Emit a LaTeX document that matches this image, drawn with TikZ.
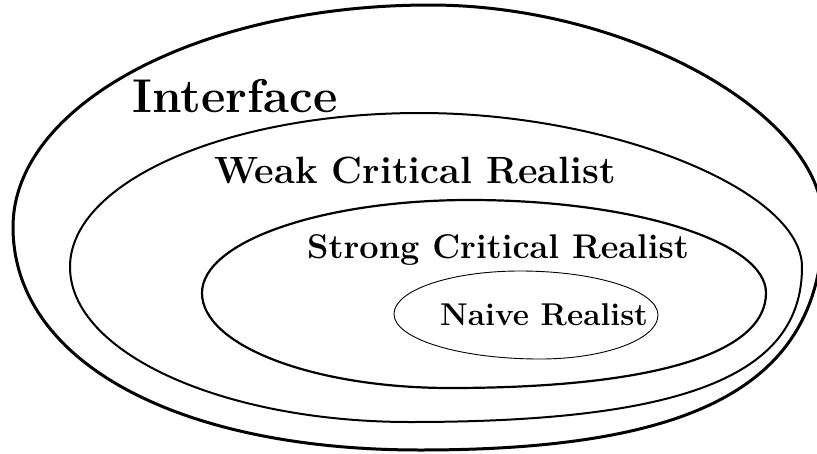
\documentclass[tikz,border=0pt]{standalone}
\usepackage{fontspec}

\begin{document}
\begin{tikzpicture}[x=1pt,y=-1pt,
  outerring/.style={line width=3pt},
  midring/.style={line width=2pt},
  innerring/.style={line width=2.2pt},
  corering/.style={line width=0.9pt},
  lbl/.style={anchor=base west,inner sep=0pt}]
\useasboundingbox (0,0) rectangle (817,453);
% rings, drawn quarter by quarter: left -> top -> right -> bottom
\draw[outerring] (13,227)
  .. controls (13,104.5) and (200,5) .. (430,5)
  .. controls (626.5,5) and (823,113.5) .. (823,222)
  .. controls (823,381.6) and (702,450) .. (420,450)
  .. controls (176,450) and (13,361) .. cycle;
\draw[midring] (70,267)
  .. controls (70,182) and (227,113) .. (420,113)
  .. controls (611,113) and (802,190) .. (802,267)
  .. controls (802,375.5) and (684.4,422) .. (410,422)
  .. controls (222.3,422) and (70,352.6) .. cycle;
\draw[innerring] (202,293)
  .. controls (202,241.7) and (322,200) .. (470,200)
  .. controls (633.4,200) and (766,241.7) .. (766,293)
  .. controls (766,353.8) and (652,388) .. (450,388)
  .. controls (313.1,388) and (202,345.4) .. cycle;
\draw[corering] (394,314)
  .. controls (394,290.3) and (450.4,271) .. (520,271)
  .. controls (596.2,271) and (658,290.7) .. (658,315)
  .. controls (658,339.3) and (605.1,359) .. (540,359)
  .. controls (459.4,359) and (394,338.8) .. cycle;
% labels
\node[lbl,font=\fontsize{47.4}{52}\selectfont\bfseries] (interface) at (132,112) {Interface};
\node[lbl,font=\fontsize{38}{42}\selectfont\bfseries] (weak) at (214,183) {Weak Critical Realist};
\node[lbl,font=\fontsize{34.3}{38}\selectfont\bfseries] (strong) at (307,258) {Strong Critical Realist};
\node[lbl,font=\fontsize{31.5}{34}\selectfont\bfseries] (naive) at (440,325) {Naive Realist};
\end{tikzpicture}
\end{document}
